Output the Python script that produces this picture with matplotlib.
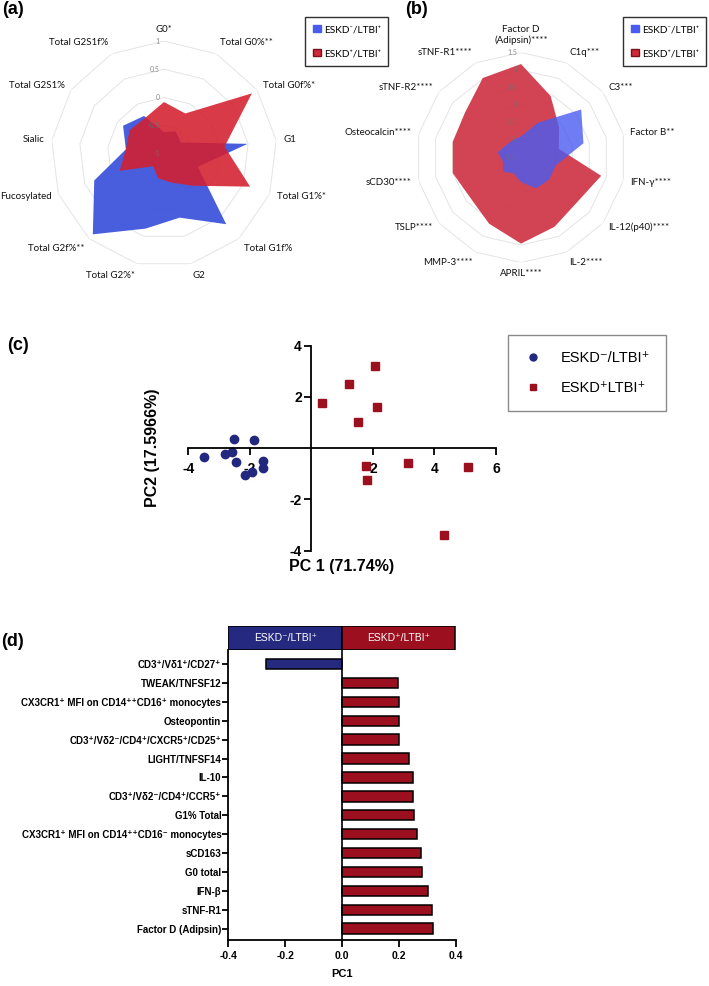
#!/usr/bin/env python3
"""Four-panel figure: two radar charts, PCA scatter and PC1 loadings -> out.png"""
import numpy as np
import matplotlib

matplotlib.use("Agg")
import matplotlib.pyplot as plt  # noqa: E402
from matplotlib.patches import Patch  # noqa: E402
from matplotlib.lines import Line2D  # noqa: E402
from matplotlib import transforms  # noqa: E402

plt.rcParams["font.family"] = ["Lato", "DejaVu Sans"]
plt.rcParams["axes.unicode_minus"] = False
ARIAL = ["Liberation Sans", "DejaVu Sans"]

NEG = "ESKD\u207b/LTBI\u207a"
POS = "ESKD\u207a/LTBI\u207a"
POS_C = "ESKD\u207aLTBI\u207a"

# ---- (a) glycan radar ----
a_labels = ["G0*", "Total G0%**", "Total G0f%*", "G1", "Total G1%*", "Total G1f%",
            "G2", "Total G2%*", "Total G2f%**", "Fucosylated", "Sialic",
            "Total G2S1%", "Total G2S1f%"]
a_neg = [-0.61, -0.55, -0.64, 0.49, -0.36, 0.66, 0.16, 0.36, 0.90, 0.32, -0.32, -0.12, -0.24]
a_pos = [-0.08, -0.19, 0.89, 0.08, 0.63, -0.25, -0.48, -0.56, -0.71, -0.16, -0.32, -0.26, -0.28]
a_rings = [-1, -0.5, 0, 0.5, 1]

# ---- (b) soluble markers radar ----
b_labels = ["Factor D\n(Adipsin)****", "C1q***", "C3***", "Factor B**", "IFN-\u03b3****",
            "IL-12(p40)****", "IL-2****", "APRIL****", "MMP-3****", "TSLP****",
            "sCD30****", "Osteocalcin****", "sTNF-R2****", "sTNF-R1****"]
b_neg = [-0.9, -0.4, 0.7, 0.33, -0.48, -0.48, -0.52, -0.8, -1.0, -0.85, -0.97, -0.82, -0.95, -0.95]
b_pos = [1.17, 0.45, -0.11, -0.39, 0.85, 0.55, 0.70, 0.96, 0.60, 0.35, 0.50, 0.50, 0.55, 1.02]
b_rings = [-1.5, -1, -0.5, 0, 0.5, 1, 1.5]

# ---- (c) PCA scores ----
c_neg_x = [-3.48, -2.82, -2.58, -2.51, -2.44, -1.87, -1.58, -1.58, -1.93, -2.17]
c_neg_y = [-0.35, -0.22, -0.13, 0.36, -0.55, 0.33, -0.51, -0.77, -0.91, -1.04]
c_pos_x = [2.06, 1.22, 0.33, 2.12, 1.51, 1.78, 1.80, 3.13, 5.08, 4.32]
c_pos_y = [3.19, 2.51, 1.76, 1.60, 1.01, -0.68, -1.24, -0.56, -0.74, -3.37]

# ---- (d) PC1 loadings (top to bottom) ----
d_labels = ["CD3\u207a/V\u03b41\u207a/CD27\u207a", "TWEAK/TNFSF12",
            "CX3CR1\u207a MFI on CD14\u207a\u207aCD16\u207a monocytes", "Osteopontin",
            "CD3\u207a/V\u03b42\u207b/CD4\u207a/CXCR5\u207a/CD25\u207a", "LIGHT/TNFSF14", "IL-10",
            "CD3\u207a/V\u03b42\u207b/CD4\u207a/CCR5\u207a", "G1% Total",
            "CX3CR1\u207a MFI on CD14\u207a\u207aCD16\u207b monocytes", "sCD163", "G0 total",
            "IFN-\u03b2", "sTNF-R1", "Factor D (Adipsin)"]
d_values = [-0.267, 0.195, 0.199, 0.199, 0.200, 0.236, 0.248, 0.248, 0.254, 0.263,
            0.278, 0.281, 0.302, 0.317, 0.319]

W, H = 709, 986
fig = plt.figure(figsize=(W / 100, H / 100), dpi=100)


def box(left, top, w, h):
    return [left / W, 1 - (top + h) / H, w / W, h / H]


def radar(cx, cy, rad, labels, rings, first, second, pad):
    ax = fig.add_axes(box(cx - rad, cy - rad, 2 * rad, 2 * rad), projection="polar")
    n = len(labels)
    theta = np.linspace(0, 2 * np.pi, n, endpoint=False)
    tc = np.append(theta, theta[0])
    ax.set_theta_offset(np.pi / 2)
    ax.set_theta_direction(-1)
    ax.set_ylim(rings[0], rings[-1])
    ax.grid(False)
    ax.set_xticks([]); ax.set_yticks([])
    ax.spines["polar"].set_visible(False)
    ax.patch.set_alpha(0)
    for lev in rings[1:]:
        ax.plot(tc, [lev] * (n + 1), color="#e4e4e4", lw=0.7, zorder=0)
    for vals, col, alpha in (first, second):
        ax.fill(tc, np.append(vals, vals[0]), color=col, alpha=alpha, lw=0, zorder=2)
    off = transforms.offset_copy(ax.transData, fig=fig, x=-4, y=0, units="dots")
    for lev in rings:
        ax.text(0, lev, f"{lev:g}", transform=off, ha="right", va="center",
                fontsize=5, color="#6e6e6e", alpha=0.8, zorder=3)
    for t, lab in zip(theta, labels):
        ang = np.pi / 2 - t
        c, s = np.cos(ang), np.sin(ang)
        ha = "left" if c > 0.15 else ("right" if c < -0.15 else "center")
        va = "bottom" if s > 0.7 else ("top" if s < -0.7 else "center")
        ax.text(t, rings[-1] + pad, lab, ha=ha, va=va, fontsize=7, clip_on=False,
                multialignment="center", color="#111111")
    return ax


# (a)
radar(164, 154, 113, a_labels, a_rings,
      (a_neg, "#3f55dc", 0.95), (a_pos, "#d41f2d", 0.88), 0.13)
# (b)
radar(521, 157.5, 105, b_labels, b_rings,
      (b_pos, "#cf3445", 0.92), (b_neg, "#4a5cf0", 0.8), 0.2)

for x0, y0 in ((305 / W, 1 - 17 / H), (623 / W, 1 - 17 / H)):
    fig.legend(handles=[Patch(facecolor="#4a5cf0", edgecolor="#4a5cf0", label=NEG),
                        Patch(facecolor="#cf2a3a", edgecolor="#7a1018", label=POS)],
               loc="upper left", bbox_to_anchor=(x0, y0), fontsize=7.3, frameon=True,
               fancybox=False, edgecolor="#303030", framealpha=1, handlelength=0.8,
               handleheight=0.8, handletextpad=0.3, labelspacing=1.45, borderpad=0.75,
               borderaxespad=0)

# (c) PCA scatter
axc = fig.add_axes(box(188.3, 345.7, 307.7, 205))
axc.plot(c_neg_x, c_neg_y, "o", color="#23287f", ms=6, ls="none", label=NEG)
axc.plot(c_pos_x, c_pos_y, "s", color="#9c0f1f", ms=5.8, ls="none", label=POS_C)
axc.set_xlim(-4, 6); axc.set_ylim(-4, 4)
axc.spines["left"].set_position(("data", 0))
axc.spines["bottom"].set_position(("data", 0))
for sp in ("top", "right"):
    axc.spines[sp].set_visible(False)
for sp in ("left", "bottom"):
    axc.spines[sp].set_linewidth(1.3)
axc.set_xticks([-4, -2, 2, 4, 6]); axc.set_yticks([-4, -2, 2, 4])
axc.tick_params(width=1.3, length=5, labelsize=10, pad=2)
axc.tick_params(axis="x", pad=5)
for t in axc.get_xticklabels() + axc.get_yticklabels():
    t.set_fontweight("bold"); t.set_family(ARIAL)
fig.text(342 / W, 1 - 567 / H, "PC 1 (71.74%)", ha="center", va="center",
         fontsize=11.5, fontweight="bold", family=ARIAL)
fig.text(152 / W, 1 - 448 / H, "PC2 (17.5966%)", ha="center", va="center",
         rotation=90, fontsize=11.5, fontweight="bold", family=ARIAL)
fig.legend(handles=[Line2D([], [], marker="o", color="#23287f", ls="none", ms=5, label=NEG),
                    Line2D([], [], marker="s", color="#9c0f1f", ls="none", ms=5, label=POS_C)],
           loc="upper left", bbox_to_anchor=(508 / W, 1 - 335 / H), borderaxespad=0,
           fancybox=False, edgecolor="#8a8a8a", framealpha=1,
           handlelength=1.2, handletextpad=1.3, labelspacing=1.1, borderpad=1.1,
           prop={"family": ARIAL, "size": 10.5})

# (d) loadings bar chart
n = len(d_labels)
ypos = np.arange(n)
axd = fig.add_axes(box(228.3, 650, 227.7, 290))
cols = ["#252a80" if v < 0 else "#9c0f1f" for v in d_values]
axd.barh(ypos, d_values, height=0.55, color=cols, edgecolor="black", lw=1.1)
axd.axvline(0, color="black", lw=1.2)
axd.set_xlim(-0.4, 0.4)
axd.set_ylim(n - 1 + 0.6, -0.74)
axd.set_yticks(ypos)
axd.set_yticklabels(d_labels)
axd.set_xticks([-0.4, -0.2, 0.0, 0.2, 0.4])
axd.set_xticklabels(["-0.4", "-0.2", "0.0", "0.2", "0.4"])
for sp in ("top", "right"):
    axd.spines[sp].set_visible(False)
for sp in ("left", "bottom"):
    axd.spines[sp].set_linewidth(1.3)
axd.tick_params(axis="y", width=1.3, length=4, labelsize=7, pad=1)
axd.tick_params(axis="x", width=1.3, length=5, labelsize=7.5, pad=3)
for t in axd.get_xticklabels() + axd.get_yticklabels():
    t.set_fontweight("bold"); t.set_family(ARIAL)
axd.set_xlabel("PC1", fontsize=8, fontweight="bold", family=ARIAL, labelpad=6)

axh = fig.add_axes(box(228.3, 626, 227.7, 24))
axh.barh([0, 0], [-0.4, 0.398], height=1, color=["#252a80", "#9c0f1f"],
         edgecolor="black", lw=1.1)
axh.set_xlim(-0.4, 0.4); axh.set_ylim(-0.5, 0.5)
axh.axis("off")
axh.text(-0.2, 0, NEG, color="white", ha="center", va="center", fontsize=7.5, family=ARIAL)
axh.text(0.2, 0, POS, color="white", ha="center", va="center", fontsize=7.5, family=ARIAL)

# panel letters
for s, x, y in (("(a)", 13, 10), ("(b)", 417, 10), ("(c)", 18, 346), ("(d)", 13, 642)):
    fig.text(x / W, 1 - y / H, s, ha="center", va="center", fontsize=13,
             fontweight="bold", family=ARIAL)

fig.savefig("out.png", dpi=100)
print("saved -> out.png")
